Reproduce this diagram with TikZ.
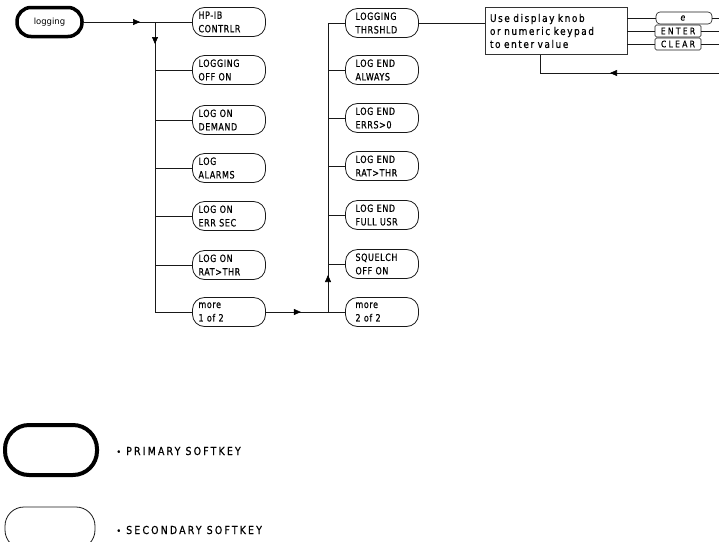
\documentclass[tikz,border=0pt]{standalone}
\usepackage{fontspec}
\setmainfont{DejaVu Sans}
\newfontfamily\plotfont[FakeStretch=0.8,LetterSpace=6,FakeBold=0.6]{DejaVu Sans}
\newfontfamily\infofont[FakeStretch=0.85,LetterSpace=15,FakeBold=0.6]{DejaVu Sans}
\newfontfamily\keyfont[FakeStretch=0.85,LetterSpace=25,FakeBold=0.6]{DejaVu Sans}
\newfontfamily\legfont[FakeStretch=0.85,LetterSpace=20,FakeBold=0.6]{DejaVu Sans}
\usetikzlibrary{arrows.meta,decorations.markings}
\begin{document}
\begin{tikzpicture}[x=1pt,y=-1pt,
  conn/.style={line width=0.6pt, draw=black!90},
  midarrow/.style={postaction={decorate}, decoration={markings, mark=at position #1 with {\arrow[black]{Triangle[length=7pt,width=6pt]}}}},
  soft/.style={draw=black!90, line width=0.8pt, rounded corners=12pt, minimum width=73pt, minimum height=29pt,
    text width=61pt, inner xsep=6pt, inner ysep=0pt, align=left,
    font=\plotfont\fontsize{10}{13.5}\selectfont},
  softb/.style={soft, text width=53pt, inner xsep=10pt, xshift=4pt},
  prim/.style={draw=black, line width=3.5pt, rounded corners=14pt, inner sep=0pt},
  infobox/.style={draw=black!80, line width=0.5pt, text width=132pt, inner xsep=5pt, inner ysep=2pt,
    minimum height=47pt, align=left, font=\infofont\fontsize{10.5}{13}\selectfont},
  keybox/.style={draw=black!90, line width=0.6pt, minimum width=46pt, minimum height=12pt, inner sep=0pt,
    rounded corners=1.5pt, font=\keyfont\fontsize{9}{10}\selectfont},
  legendtext/.style={anchor=west, font=\legfont\fontsize{11}{13}\selectfont},
]
\useasboundingbox (0,0) rectangle (719,541);

% primary
\node[prim, minimum width=65pt, minimum height=29pt, font=\fontsize{8.5}{10}\selectfont] (log) at (49.5,22) {logging};

% column 1
\node[soft] (c1a) at (229,22) {HP-IB\\CONTRLR};
\node[soft] (c1b) at (229,70) {LOGGING\\OFF ON};
\node[soft] (c1c) at (229,120) {LOG ON\\DEMAND};
\node[soft] (c1d) at (229,168) {LOG\\ALARMS};
\node[soft] (c1e) at (229,216) {LOG ON\\ERR SEC};
\node[soft] (c1f) at (229,265) {LOG ON\\RAT>THR};
\node[soft] (c1g) at (229,312) {more\\1 of 2};

% column 2
\node[softb] (c2a) at (378,23) {LOGGING\\THRSHLD};
\node[softb] (c2b) at (378,70) {LOG END\\ALWAYS};
\node[softb] (c2c) at (378,118) {LOG END\\ERRS>0};
\node[softb] (c2d) at (378,166) {LOG END\\RAT>THR};
\node[softb] (c2e) at (378,215) {LOG END\\FULL USR};
\node[softb] (c2f) at (378,264) {SQUELCH\\OFF ON};
\node[softb] (c2g) at (378,312) {more\\2 of 2};

% info box and keys
\node[infobox] (info) at (556,31) {Use display knob\\or numeric keypad\\to enter value};
\node[keybox, minimum width=56pt, rounded corners=4pt] (ke) at (684,18) {\textit{e}};
\node[keybox] (kent) at (678,31) {ENTER};
\node[keybox] (kclr) at (678,44) {CLEAR};
\coordinate (edge) at (722,0);
\coordinate (r0) at (722,73);
\coordinate (rc) at (540,73);

% connectors
\draw[conn, midarrow=0.52] (log.east) -- (c1a.west);
\coordinate (b1) at (155,22);
\draw[conn, midarrow=22pt] (b1) -- (b1 |- c1g.west) -- (c1g.west);
\foreach \n in {c1b,c1c,c1d,c1e,c1f} \draw[conn] (b1 |- \n.west) -- (\n.west);

\draw[conn, midarrow=35pt] (c1g.east) -- (c2g.west);
\coordinate (b2) at (328,312);
\draw[conn, midarrow=37pt] (b2) -- (b2 |- c2a.west) -- (c2a.west);
\foreach \n in {c2b,c2c,c2d,c2e,c2f} \draw[conn] (b2 |- \n.west) -- (\n.west);

\draw[conn] (c2a.east) -- (info.west |- c2a.east);
\foreach \k in {ke,kent,kclr} {
  \draw[conn] (info.east |- \k.west) -- (\k.west);
  \draw[conn] (\k.east) -- (\k.east -| edge);
}
\draw[conn, midarrow=112pt] (r0) -- (rc);
\draw[conn] (rc) -- (rc |- info.south);

% legend
\node[prim, line width=4pt, minimum width=92pt, minimum height=50pt, rounded corners=24pt] (lp) at (51,450) {};
\node[legendtext] (lpt) at (113,451) {{\small•} PRIMARY SOFTKEY};
\node[draw=black!90, line width=0.8pt, minimum width=90pt, minimum height=42pt, rounded corners=19pt] (ls) at (50,528) {};
\node[legendtext] (lst) at (113,530) {{\small•} SECONDARY SOFTKEY};
\end{tikzpicture}
\end{document}
